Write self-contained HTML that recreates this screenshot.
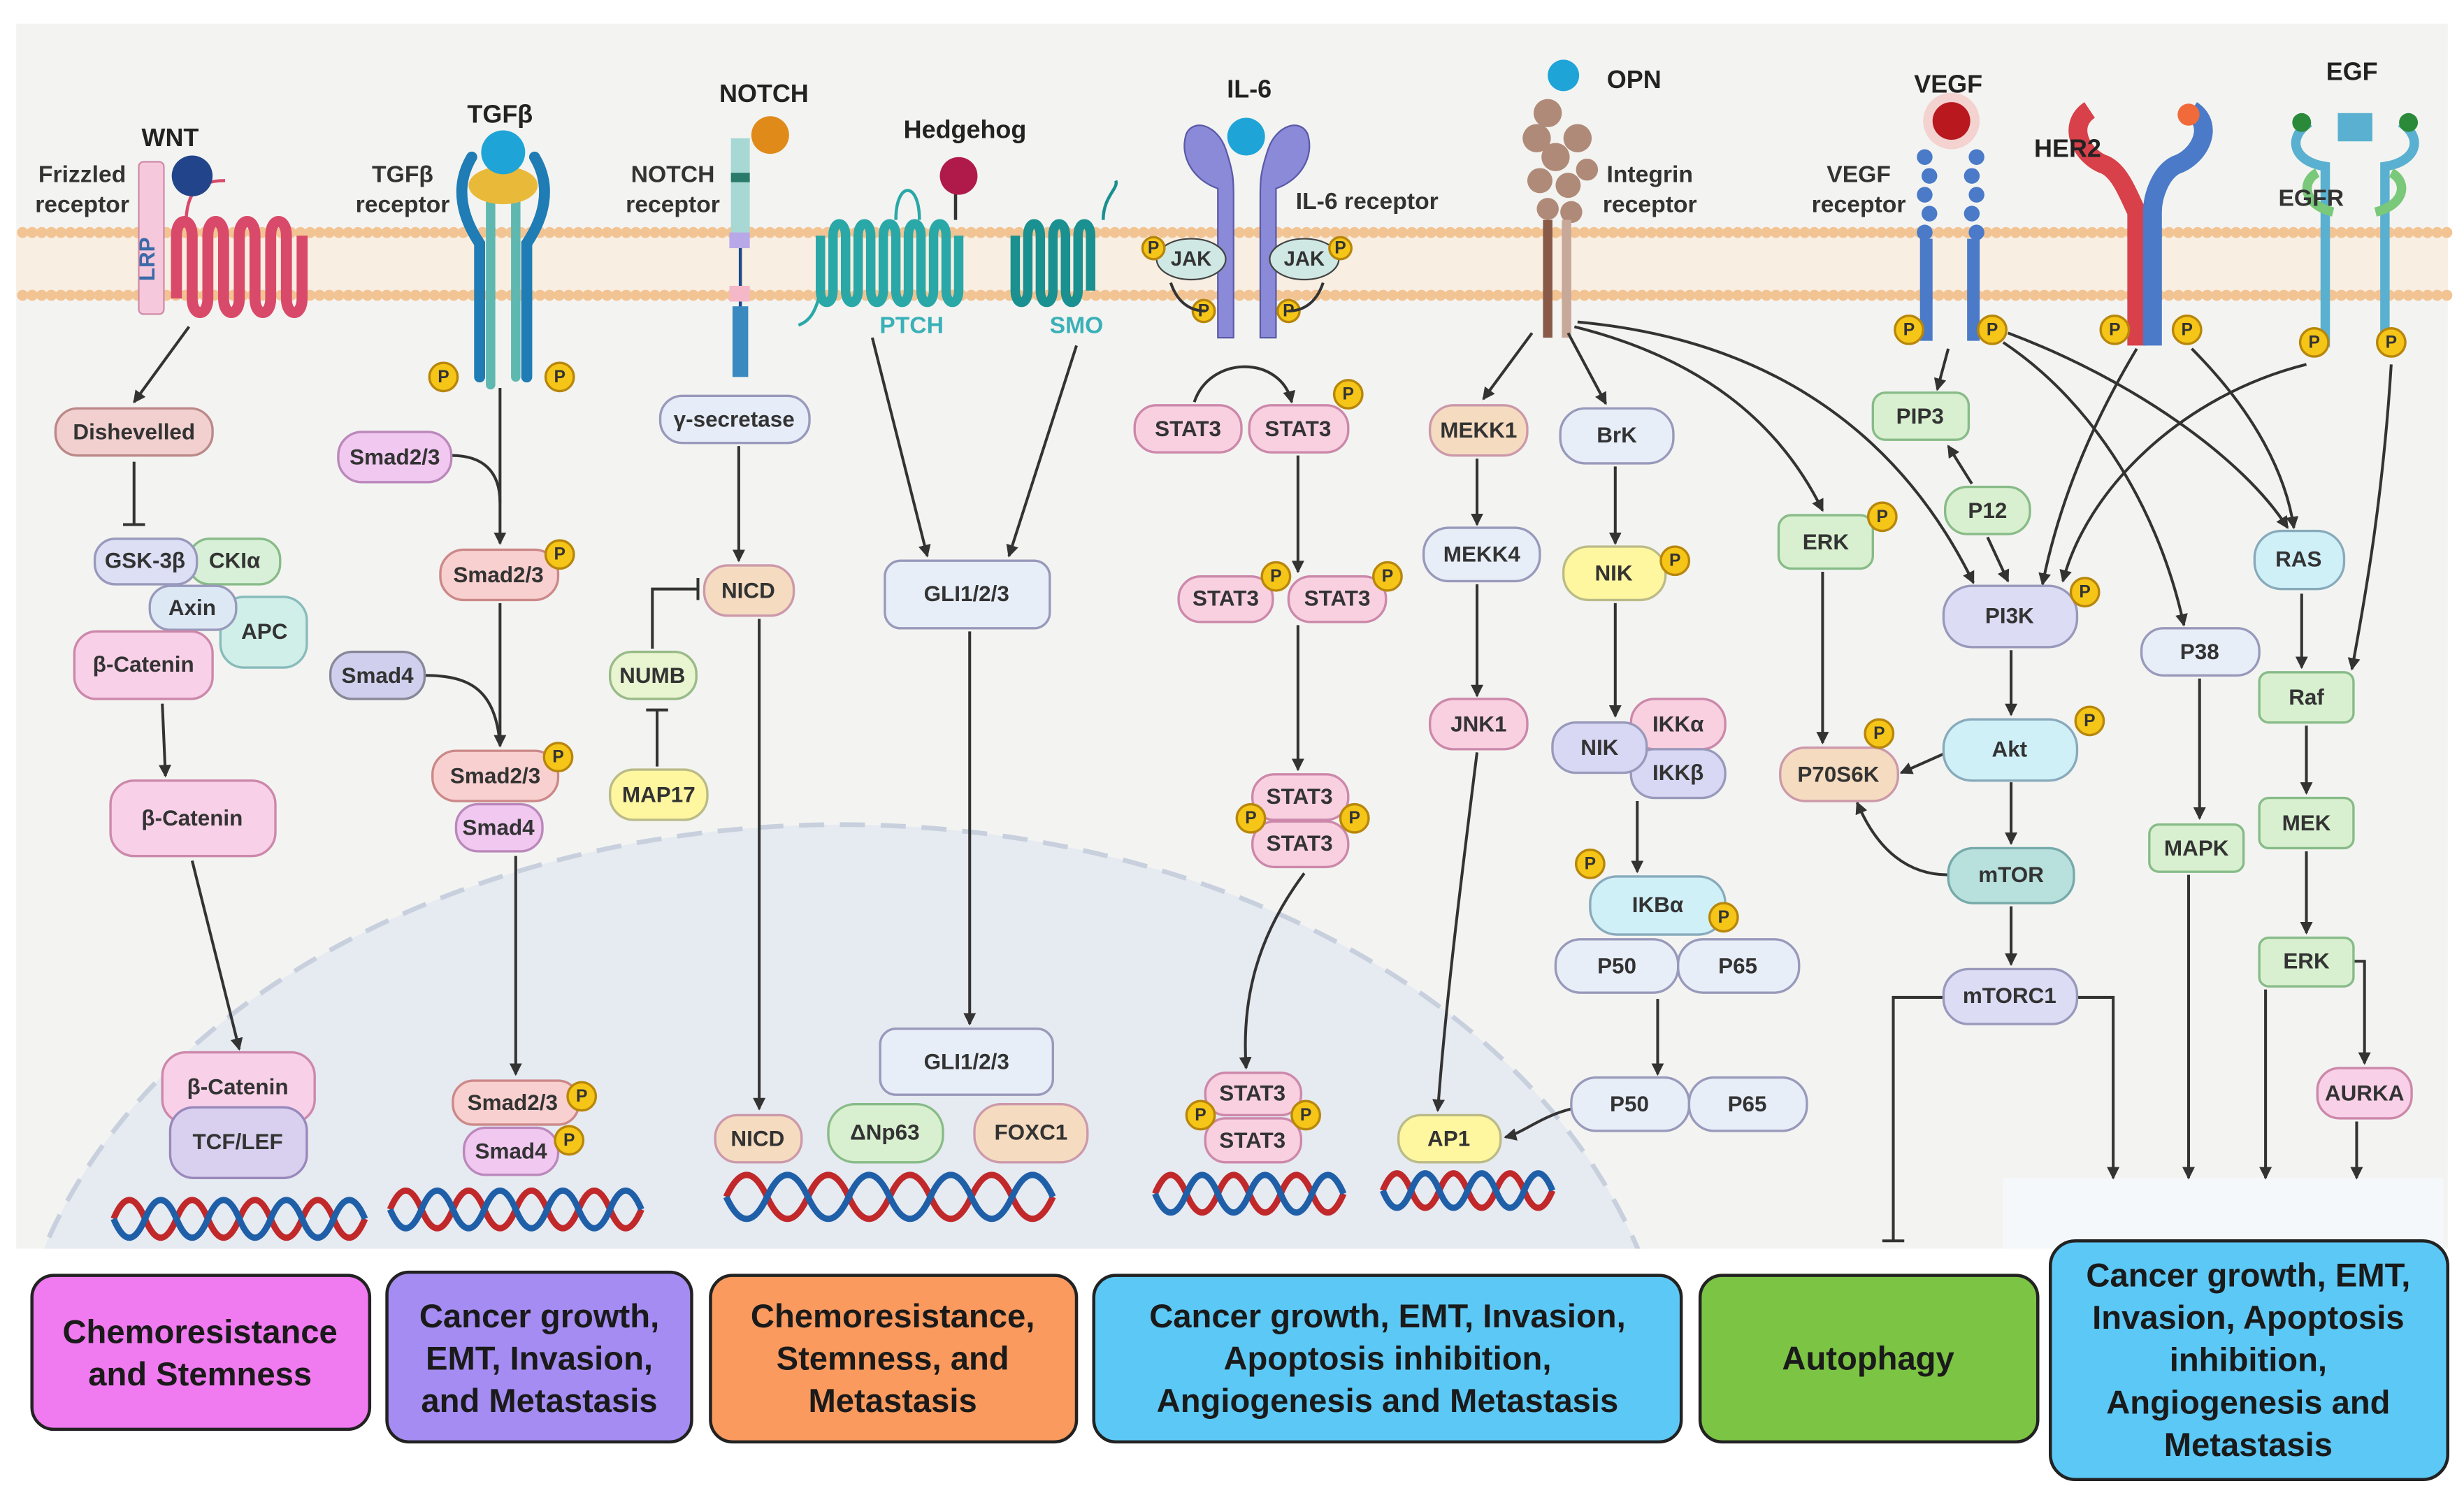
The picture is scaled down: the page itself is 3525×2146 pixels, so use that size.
<!DOCTYPE html>
<html><head><meta charset="utf-8"><style>
html,body{margin:0;padding:0;background:#fff;width:3525px;height:2146px;overflow:hidden}
svg{display:block}
text{font-family:"Liberation Sans",sans-serif;font-weight:bold}
.n text{font-size:14px;fill:#333;text-anchor:middle;dominant-baseline:central}
.lb{font-size:16px;fill:#222;text-anchor:middle}
.bt{font-size:21px;fill:#1a1a1a;text-anchor:middle}
.ln{stroke:#333;stroke-width:1.8;fill:none}
.ar{marker-end:url(#ah)}
.pc circle{fill:#f5c518;stroke:#b8860b;stroke-width:1.5}
.pc text{font-size:11px;fill:#333;text-anchor:middle;dominant-baseline:central}
</style></head><body>
<svg width="3525" height="2146" viewBox="0 0 1568 955" xmlns="http://www.w3.org/2000/svg">
<defs>
<marker id="ah" markerWidth="8" markerHeight="8" refX="7" refY="4" orient="auto" markerUnits="userSpaceOnUse" viewBox="0 0 8 8"><path d="M0,0 L8,4 L0,8 z" fill="#333"/></marker>
<clipPath id="cl"><rect x="10" y="15" width="1548" height="780"/></clipPath>
</defs>
<rect x="10" y="15" width="1548" height="780" fill="#f3f4f1"/>
<rect x="10" y="147" width="1548" height="42" fill="#f8eee2"/>
<line x1="14" y1="148" x2="1558" y2="148" stroke="#f3c493" stroke-width="7" stroke-dasharray="0.1 6" stroke-linecap="round"/>
<line x1="14" y1="188" x2="1558" y2="188" stroke="#f3c493" stroke-width="7" stroke-dasharray="0.1 6" stroke-linecap="round"/>
<g clip-path="url(#cl)"><ellipse cx="535" cy="905" rx="530" ry="380" fill="#e6eaf1" stroke="#c8d0de" stroke-width="3" stroke-dasharray="16 10"/></g>
<rect x="1275" y="750" width="280" height="45" fill="#f5f8fb"/>

<rect x="88" y="103" width="16" height="97" rx="3" fill="#f6c8dc" stroke="#d08aa8"/>
<text x="98" y="165" transform="rotate(-90 98 165)" font-size="14" fill="#3a6aa8" text-anchor="middle">LRP</text>
<path d="M112,150 v40 M112,150 c0,-12 10,-12 10,0 v40 c0,12 10,12 10,0 v-40 c0,-12 10,-12 10,0 v40 c0,12 10,12 10,0 v-40 c0,-12 10,-12 10,0 v40 c0,12 10,12 10,0 v-40 c0,-12 10,-12 10,0 v40 c0,12 10,12 10,0 v-40" stroke="#d94a6a" stroke-width="7" fill="none"/>
<path d="M118,145 c0,-20 5,-30 25,-30" stroke="#d94a6a" stroke-width="2" fill="none"/>
<circle cx="122" cy="112" r="13" fill="#22448a"/>
<text class="lb" x="108" y="93">WNT</text>
<text x="52" y="116" font-size="15" fill="#333" text-anchor="middle">Frizzled</text>
<text x="52" y="135" font-size="15" fill="#333" text-anchor="middle">receptor</text>

<g stroke-linecap="round" fill="none">
<path d="M300,100 c-12,20 -5,40 5,55 v85" stroke="#1f7cb4" stroke-width="7"/>
<path d="M340,100 c12,20 5,40 -5,55 v85" stroke="#1f7cb4" stroke-width="7"/>
<path d="M312,125 v120" stroke="#5fb8b0" stroke-width="6"/>
<path d="M328,125 v115" stroke="#5fb8b0" stroke-width="6"/>
</g>
<ellipse cx="320" cy="118" rx="22" ry="12" fill="#e9b93a"/>
<circle cx="320" cy="97" r="14" fill="#1fa4d8"/>
<text class="lb" x="318" y="78">TGFβ</text>
<text x="256" y="116" font-size="15" fill="#333" text-anchor="middle">TGFβ</text>
<text x="256" y="135" font-size="15" fill="#333" text-anchor="middle">receptor</text>
<g class="pc"><circle cx="282" cy="240" r="9"/><text x="282" y="240">P</text></g>
<g class="pc"><circle cx="356" cy="240" r="9"/><text x="356" y="240">P</text></g>

<rect x="465" y="88" width="12" height="60" fill="#a8d8d4"/>
<rect x="465" y="110" width="12" height="6" fill="#2a7a6a"/>
<rect x="464" y="148" width="13" height="10" fill="#b8a8e8"/>
<line x1="471" y1="158" x2="471" y2="200" stroke="#1f4a8a" stroke-width="2"/>
<rect x="464" y="182" width="13" height="10" fill="#f5b8c8"/>
<rect x="466" y="195" width="10" height="45" fill="#3a8ac0"/>
<circle cx="490" cy="86" r="12" fill="#e08a1a"/>
<text class="lb" x="486" y="65">NOTCH</text>
<text x="428" y="116" font-size="15" fill="#333" text-anchor="middle">NOTCH</text>
<text x="428" y="135" font-size="15" fill="#333" text-anchor="middle">receptor</text>

<path d="M522,150 v35 c0,10 8,10 8,0 v-35 c0,-10 8,-10 8,0 v35 c0,10 8,10 8,0 v-35 c0,-10 8,-10 8,0 v35 c0,10 8,10 8,0 v-35 c0,-10 8,-10 8,0 v35 c0,10 8,10 8,0 v-35 c0,-10 8,-10 8,0 v35 c0,10 8,10 8,0 v-35 c0,-10 8,-10 8,0 v35 c0,10 8,10 8,0 v-35" stroke="#2aa8a8" stroke-width="6" fill="none"/>
<path d="M522,185 c-3,15 -8,20 -14,22 M570,140 c0,-25 15,-25 15,0" stroke="#2aa8a8" stroke-width="2" fill="none"/>
<path d="M646,150 v35 c0,10 8,10 8,0 v-35 c0,-10 8,-10 8,0 v35 c0,10 8,10 8,0 v-35 c0,-10 8,-10 8,0 v35 c0,10 8,10 8,0 v-35 c0,-10 8,-10 8,0 v35" stroke="#1a9090" stroke-width="6" fill="none"/>
<path d="M702,140 c0,-15 10,-20 8,-25" stroke="#1a9090" stroke-width="2" fill="none"/>
<line x1="608" y1="118" x2="608" y2="140" stroke="#333" stroke-width="2"/>
<circle cx="610" cy="112" r="12" fill="#b01a4a"/>
<text class="lb" x="614" y="88">Hedgehog</text>
<text x="580" y="212" font-size="15" fill="#3ab0b8" text-anchor="middle">PTCH</text>
<text x="685" y="212" font-size="15" fill="#3ab0b8" text-anchor="middle">SMO</text>

<path d="M775,215 v-95 c-15,-5 -25,-20 -20,-35 c5,-10 20,-5 25,10 c5,15 5,20 5,30 v90 z" fill="#8a8ad8" stroke="#5a5aa8"/>
<path d="M812,215 v-95 c15,-5 25,-20 20,-35 c-5,-10 -20,-5 -25,10 c-5,15 -5,20 -5,30 v90 z" fill="#8a8ad8" stroke="#5a5aa8"/>
<circle cx="793" cy="87" r="12" fill="#1fa4d8"/>
<text class="lb" x="795" y="62">IL-6</text>
<text x="870" y="133" font-size="15" fill="#333" text-anchor="middle">IL-6 receptor</text>
<ellipse cx="758" cy="165" rx="22" ry="13" fill="#cfe8e4" stroke="#444"/><text x="758" y="169" font-size="13" text-anchor="middle" fill="#333">JAK</text>
<ellipse cx="830" cy="165" rx="22" ry="13" fill="#cfe8e4" stroke="#444"/><text x="830" y="169" font-size="13" text-anchor="middle" fill="#333">JAK</text>
<g class="pc"><circle cx="734" cy="158" r="7"/><text x="734" y="158">P</text></g>
<g class="pc"><circle cx="853" cy="158" r="7"/><text x="853" y="158">P</text></g>
<g class="pc"><circle cx="766" cy="198" r="7"/><text x="766" y="198">P</text></g>
<g class="pc"><circle cx="820" cy="198" r="7"/><text x="820" y="198">P</text></g>
<path d="M745,180 c5,15 15,18 22,18 M842,180 c-5,15 -15,18 -22,18" class="ln"/>

<g fill="#b08a78">
<circle cx="985" cy="72" r="9"/><circle cx="978" cy="88" r="9"/><circle cx="990" cy="100" r="9"/><circle cx="1004" cy="88" r="9"/><circle cx="980" cy="115" r="8"/><circle cx="998" cy="118" r="8"/><circle cx="1010" cy="108" r="7"/><circle cx="985" cy="133" r="7"/><circle cx="1000" cy="135" r="7"/>
</g>
<rect x="982" y="140" width="6" height="75" fill="#8a5a48"/><rect x="994" y="140" width="6" height="75" fill="#c8a898"/>
<circle cx="995" cy="48" r="10" fill="#1fa4d8"/>
<text class="lb" x="1040" y="56">OPN</text>
<text x="1050" y="116" font-size="15" fill="#333" text-anchor="middle">Integrin</text>
<text x="1050" y="135" font-size="15" fill="#333" text-anchor="middle">receptor</text>

<g fill="#4a7ac8">
<circle cx="1225" cy="100" r="5"/><circle cx="1228" cy="112" r="5"/><circle cx="1225" cy="124" r="5"/><circle cx="1228" cy="136" r="5"/><circle cx="1225" cy="148" r="5"/>
<circle cx="1258" cy="100" r="5"/><circle cx="1255" cy="112" r="5"/><circle cx="1258" cy="124" r="5"/><circle cx="1255" cy="136" r="5"/><circle cx="1258" cy="148" r="5"/>
<rect x="1222" y="152" width="8" height="65"/><rect x="1252" y="152" width="8" height="65"/>
</g>
<circle cx="1242" cy="77" r="18" fill="#f5b0b0" opacity="0.5"/>
<circle cx="1242" cy="77" r="12" fill="#b8181e"/>
<text class="lb" x="1240" y="59">VEGF</text>
<text x="1183" y="116" font-size="15" fill="#333" text-anchor="middle">VEGF</text>
<text x="1183" y="135" font-size="15" fill="#333" text-anchor="middle">receptor</text>
<g class="pc"><circle cx="1215" cy="210" r="9"/><text x="1215" y="210">P</text></g>
<g class="pc"><circle cx="1268" cy="210" r="9"/><text x="1268" y="210">P</text></g>

<path d="M1330,70 c-15,10 -5,30 10,35 c10,5 15,20 20,30 v85" stroke="#d8404a" stroke-width="12" fill="none"/>
<path d="M1395,70 c15,10 5,30 -10,35 c-10,5 -15,20 -15,30 v85" stroke="#4a7ac8" stroke-width="12" fill="none"/>
<circle cx="1393" cy="73" r="7" fill="#f06a3a"/>
<text class="lb" x="1316" y="100">HER2</text>
<g class="pc"><circle cx="1346" cy="210" r="9"/><text x="1346" y="210">P</text></g>
<g class="pc"><circle cx="1392" cy="210" r="9"/><text x="1392" y="210">P</text></g>

<path d="M1470,78 c-15,10 -10,25 10,28 v115 M1528,78 c15,10 10,25 -10,28 v115" stroke="#5ab0d0" stroke-width="6" fill="none"/>
<path d="M1475,110 c-10,5 -10,20 10,25 M1522,110 c10,5 10,20 -10,25" stroke="#7ac87a" stroke-width="6" fill="none"/>
<rect x="1488" y="72" width="22" height="18" fill="#5ab0d0"/>
<circle cx="1465" cy="78" r="6" fill="#2a8a3a"/><circle cx="1533" cy="78" r="6" fill="#2a8a3a"/>
<text class="lb" x="1497" y="51">EGF</text>
<text x="1471" y="131" font-size="15" fill="#333" text-anchor="middle">EGFR</text>
<g class="pc"><circle cx="1473" cy="218" r="9"/><text x="1473" y="218">P</text></g>
<g class="pc"><circle cx="1522" cy="218" r="9"/><text x="1522" y="218">P</text></g>

<g class="ln">
<line class="ar" x1="120" y1="208" x2="85" y2="256"/>
<line x1="85" y1="294" x2="85" y2="334"/><line x1="78" y1="334" x2="92" y2="334"/>
<line class="ar" x1="103" y1="448" x2="105" y2="494"/>
<line class="ar" x1="122" y1="548" x2="152" y2="668"/>
<path class="ar" d="M318,247 V346"/><path d="M287,290 c20,0 31,10 31,30"/>
<path class="ar" d="M318,384 V475"/><path d="M270,430 c30,0 45,10 48,44"/>
<path class="ar" d="M328,545 V684"/>
<path class="ar" d="M470,284 V357"/>
<path class="ar" d="M483,394 V706"/>
<path d="M415,413 V375 H444"/><line x1="444" y1="368" x2="444" y2="382"/>
<path d="M418,488 V452"/><line x1="411" y1="452" x2="425" y2="452"/>
<path class="ar" d="M555,215 L590,354"/><path class="ar" d="M685,220 L642,354"/>
<path class="ar" d="M617,402 V652"/>
<path class="ar" d="M760,256 c10,-30 55,-30 62,0"/>
<path class="ar" d="M826,290 V364"/><path class="ar" d="M826,398 V490"/>
<path class="ar" d="M830,556 c-30,40 -40,80 -37,124"/>
<path class="ar" d="M975,212 L944,254"/><path class="ar" d="M998,212 L1022,257"/>
<path class="ar" d="M1002,208 c80,20 130,60 158,117"/>
<path class="ar" d="M1004,205 c110,10 200,60 252,166"/>
<path class="ar" d="M940,292 V334"/><path class="ar" d="M940,372 V443"/>
<path class="ar" d="M940,479 c-10,80 -20,160 -25,228"/>
<path class="ar" d="M1028,297 V346"/><path class="ar" d="M1028,384 V456"/>
<path class="ar" d="M1042,510 V555"/><path class="ar" d="M1055,636 V684"/>
<path class="ar" d="M1000,706 c-20,5 -30,15 -42,18"/>
<path class="ar" d="M1160,364 V473"/>
<path class="ar" d="M1240,222 L1233,248"/>
<path class="ar" d="M1255,308 L1240,284"/><path class="ar" d="M1265,342 L1278,370"/>
<path class="ar" d="M1278,212 c80,30 150,80 178,124"/>
<path class="ar" d="M1275,218 c60,40 100,110 115,180"/>
<path class="ar" d="M1360,222 c-30,50 -50,100 -60,150"/>
<path class="ar" d="M1395,222 c40,40 60,80 65,114"/>
<path class="ar" d="M1468,232 c-80,20 -140,80 -155,138"/>
<path class="ar" d="M1522,232 c-5,80 -15,140 -25,194"/>
<path class="ar" d="M1280,414 V455"/><path class="ar" d="M1237,480 L1210,492"/>
<path class="ar" d="M1280,498 V537"/><path class="ar" d="M1240,557 c-25,0 -45,-15 -58,-46"/>
<path class="ar" d="M1280,577 V614"/>
<path d="M1237,635 H1205 V790"/><line x1="1198" y1="790" x2="1212" y2="790"/>
<path class="ar" d="M1322,635 H1345 V750"/>
<path class="ar" d="M1400,432 V521"/><path class="ar" d="M1393,557 V750"/>
<path class="ar" d="M1465,378 V425"/><path class="ar" d="M1468,462 V505"/><path class="ar" d="M1468,542 V594"/>
<path class="ar" d="M1442,630 V750"/><path class="ar" d="M1498,612 H1505 V677"/>
<path class="ar" d="M1500,714 V750"/>
</g>

<g class="n" stroke-width="1.5">
<rect x="35" y="260" width="100" height="30" rx="14" fill="#f2d0d0" stroke="#b88"/><text x="85" y="275">Dishevelled</text>
<rect x="120" y="343" width="58" height="29" rx="13" fill="#d8f0d8" stroke="#8b8"/><text x="149" y="357">CKIα</text>
<rect x="60" y="343" width="65" height="29" rx="13" fill="#dde0f5" stroke="#99b"/><text x="92" y="357">GSK-3β</text>
<rect x="140" y="380" width="55" height="45" rx="15" fill="#d0efe8" stroke="#8bb"/><text x="168" y="402">APC</text>
<rect x="95" y="373" width="55" height="28" rx="13" fill="#dde8f5" stroke="#99b"/><text x="122" y="387">Axin</text>
<rect x="47" y="402" width="88" height="43" rx="14" fill="#f8d0e8" stroke="#c8a"/><text x="91" y="423">β-Catenin</text>
<rect x="70" y="497" width="105" height="48" rx="15" fill="#f8d0e8" stroke="#c8a"/><text x="122" y="521">β-Catenin</text>
<rect x="103" y="670" width="97" height="45" rx="15" fill="#f8d0e8" stroke="#c8a"/><text x="151" y="692">β-Catenin</text>
<rect x="108" y="705" width="87" height="45" rx="15" fill="#d8d0ee" stroke="#98b"/><text x="151" y="727">TCF/LEF</text>
<rect x="215" y="275" width="72" height="32" rx="15" fill="#f0c8f0" stroke="#b8b"/><text x="251" y="291">Smad2/3</text>
<rect x="280" y="350" width="75" height="32" rx="15" fill="#f8d0d0" stroke="#c88"/><text x="317" y="366">Smad2/3</text>
<rect x="210" y="415" width="60" height="30" rx="14" fill="#d0d0ee" stroke="#889"/><text x="240" y="430">Smad4</text>
<rect x="275" y="478" width="80" height="32" rx="15" fill="#f8d0d0" stroke="#c88"/><text x="315" y="494">Smad2/3</text>
<rect x="290" y="512" width="55" height="30" rx="14" fill="#f0c8f0" stroke="#b8b"/><text x="317" y="527">Smad4</text>
<rect x="288" y="688" width="80" height="28" rx="13" fill="#f8d0d0" stroke="#c88"/><text x="326" y="702">Smad2/3</text>
<rect x="295" y="718" width="60" height="30" rx="14" fill="#f0c8f0" stroke="#b8b"/><text x="325" y="733">Smad4</text>
<rect x="420" y="252" width="95" height="30" rx="14" fill="#e6ecf8" stroke="#99b"/><text x="467" y="267">γ-secretase</text>
<rect x="448" y="360" width="57" height="32" rx="15" fill="#f5dcc0" stroke="#c9a"/><text x="476" y="376">NICD</text>
<rect x="388" y="415" width="55" height="30" rx="14" fill="#e8f5d0" stroke="#9b8"/><text x="415" y="430">NUMB</text>
<rect x="388" y="490" width="62" height="32" rx="15" fill="#fff6a0" stroke="#bb8"/><text x="419" y="506">MAP17</text>
<rect x="455" y="710" width="55" height="30" rx="14" fill="#f5dcc0" stroke="#c9a"/><text x="482" y="725">NICD</text>
<rect x="563" y="357" width="105" height="43" rx="10" fill="#e8eef8" stroke="#99b"/><text x="615" y="378">GLI1/2/3</text>
<rect x="560" y="655" width="110" height="42" rx="10" fill="#e8eef8" stroke="#99b"/><text x="615" y="676">GLI1/2/3</text>
<rect x="527" y="703" width="73" height="37" rx="17" fill="#d8f0d0" stroke="#8b8"/><text x="563" y="721">ΔNp63</text>
<rect x="620" y="703" width="72" height="37" rx="17" fill="#f5dcc0" stroke="#c9a"/><text x="656" y="721">FOXC1</text>
<rect x="722" y="258" width="68" height="30" rx="14" fill="#f8d0e0" stroke="#c8a"/><text x="756" y="273">STAT3</text>
<rect x="795" y="258" width="63" height="30" rx="14" fill="#f8d0e0" stroke="#c8a"/><text x="826" y="273">STAT3</text>
<rect x="750" y="367" width="60" height="29" rx="14" fill="#f8d0e0" stroke="#c8a"/><text x="780" y="381">STAT3</text>
<rect x="820" y="367" width="62" height="29" rx="14" fill="#f8d0e0" stroke="#c8a"/><text x="851" y="381">STAT3</text>
<rect x="797" y="493" width="61" height="29" rx="14" fill="#f8d0e0" stroke="#c8a"/><text x="827" y="507">STAT3</text>
<rect x="797" y="523" width="61" height="29" rx="14" fill="#f8d0e0" stroke="#c8a"/><text x="827" y="537">STAT3</text>
<rect x="767" y="683" width="61" height="27" rx="13" fill="#f8d0e0" stroke="#c8a"/><text x="797" y="696">STAT3</text>
<rect x="767" y="712" width="61" height="28" rx="13" fill="#f8d0e0" stroke="#c8a"/><text x="797" y="726">STAT3</text>
<rect x="910" y="258" width="62" height="32" rx="15" fill="#f5dcc0" stroke="#c9a"/><text x="941" y="274">MEKK1</text>
<rect x="906" y="336" width="74" height="34" rx="16" fill="#e8eef8" stroke="#99b"/><text x="943" y="353">MEKK4</text>
<rect x="910" y="445" width="62" height="32" rx="15" fill="#f8d0e0" stroke="#c8a"/><text x="941" y="461">JNK1</text>
<rect x="890" y="710" width="65" height="30" rx="14" fill="#fff6a0" stroke="#bb8"/><text x="922" y="725">AP1</text>
<rect x="993" y="260" width="72" height="35" rx="16" fill="#e8eef8" stroke="#99b"/><text x="1029" y="277">BrK</text>
<rect x="995" y="348" width="65" height="34" rx="16" fill="#fff6a0" stroke="#bb8"/><text x="1027" y="365">NIK</text>
<rect x="1038" y="445" width="60" height="32" rx="15" fill="#f8d0e0" stroke="#c8a"/><text x="1068" y="461">IKKα</text>
<rect x="1038" y="477" width="60" height="31" rx="15" fill="#d8d8f5" stroke="#99b"/><text x="1068" y="492">IKKβ</text>
<rect x="988" y="460" width="60" height="32" rx="15" fill="#d8d8f5" stroke="#99b"/><text x="1018" y="476">NIK</text>
<rect x="1012" y="558" width="86" height="37" rx="17" fill="#d0f0f8" stroke="#8ab"/><text x="1055" y="576">IKBα</text>
<rect x="990" y="598" width="78" height="34" rx="16" fill="#e8eef8" stroke="#99b"/><text x="1029" y="615">P50</text>
<rect x="1068" y="598" width="77" height="34" rx="16" fill="#e8eef8" stroke="#99b"/><text x="1106" y="615">P65</text>
<rect x="1000" y="686" width="75" height="34" rx="16" fill="#e8eef8" stroke="#99b"/><text x="1037" y="703">P50</text>
<rect x="1075" y="686" width="75" height="34" rx="16" fill="#e8eef8" stroke="#99b"/><text x="1112" y="703">P65</text>
<rect x="1132" y="328" width="60" height="34" rx="8" fill="#d8f0d0" stroke="#8b8"/><text x="1162" y="345">ERK</text>
<rect x="1192" y="250" width="61" height="30" rx="8" fill="#d8f0d0" stroke="#8b8"/><text x="1222" y="265">PIP3</text>
<rect x="1238" y="310" width="54" height="30" rx="14" fill="#d8f0d0" stroke="#8b8"/><text x="1265" y="325">P12</text>
<rect x="1237" y="373" width="85" height="39" rx="18" fill="#dcdcf5" stroke="#99b"/><text x="1279" y="392">PI3K</text>
<rect x="1237" y="458" width="85" height="39" rx="18" fill="#d0f0f8" stroke="#8ab"/><text x="1279" y="477">Akt</text>
<rect x="1133" y="476" width="75" height="34" rx="16" fill="#f5dcc0" stroke="#c9a"/><text x="1170" y="493">P70S6K</text>
<rect x="1240" y="540" width="80" height="35" rx="16" fill="#b8e0dc" stroke="#7aa"/><text x="1280" y="557">mTOR</text>
<rect x="1237" y="617" width="85" height="35" rx="16" fill="#dcdcf5" stroke="#99b"/><text x="1279" y="634">mTORC1</text>
<rect x="1363" y="400" width="75" height="30" rx="14" fill="#e8eef8" stroke="#99b"/><text x="1400" y="415">P38</text>
<rect x="1368" y="525" width="60" height="30" rx="6" fill="#d8f0d0" stroke="#8b8"/><text x="1398" y="540">MAPK</text>
<rect x="1435" y="338" width="57" height="37" rx="17" fill="#d0f0f8" stroke="#8ab"/><text x="1463" y="356">RAS</text>
<rect x="1438" y="428" width="60" height="32" rx="6" fill="#d8f0d0" stroke="#8b8"/><text x="1468" y="444">Raf</text>
<rect x="1438" y="508" width="60" height="32" rx="6" fill="#d8f0d0" stroke="#8b8"/><text x="1468" y="524">MEK</text>
<rect x="1438" y="597" width="60" height="31" rx="6" fill="#d8f0d0" stroke="#8b8"/><text x="1468" y="612">ERK</text>
<rect x="1475" y="680" width="60" height="32" rx="14" fill="#f8d0e8" stroke="#c8a"/><text x="1505" y="696">AURKA</text>
</g>

<g class="pc">
<circle cx="356" cy="353" r="9"/><text x="356" y="353">P</text>
<circle cx="355" cy="482" r="9"/><text x="355" y="482">P</text>
<circle cx="370" cy="698" r="9"/><text x="370" y="698">P</text>
<circle cx="362" cy="726" r="9"/><text x="362" y="726">P</text>
<circle cx="858" cy="251" r="9"/><text x="858" y="251">P</text>
<circle cx="812" cy="367" r="9"/><text x="812" y="367">P</text>
<circle cx="883" cy="367" r="9"/><text x="883" y="367">P</text>
<circle cx="796" cy="521" r="9"/><text x="796" y="521">P</text>
<circle cx="862" cy="521" r="9"/><text x="862" y="521">P</text>
<circle cx="764" cy="710" r="9"/><text x="764" y="710">P</text>
<circle cx="831" cy="710" r="9"/><text x="831" y="710">P</text>
<circle cx="1066" cy="357" r="9"/><text x="1066" y="357">P</text>
<circle cx="1012" cy="550" r="9"/><text x="1012" y="550">P</text>
<circle cx="1097" cy="584" r="9"/><text x="1097" y="584">P</text>
<circle cx="1198" cy="329" r="9"/><text x="1198" y="329">P</text>
<circle cx="1327" cy="377" r="9"/><text x="1327" y="377">P</text>
<circle cx="1330" cy="459" r="9"/><text x="1330" y="459">P</text>
<circle cx="1196" cy="467" r="9"/><text x="1196" y="467">P</text>
</g>

<g fill="none" stroke-width="4">
<path d="M72,776 q10,-24 20,0 t20,0 t20,0 t20,0 t20,0 t20,0 t20,0 t20,0" stroke="#c0282a"/>
<path d="M72,776 q10,24 20,0 t20,0 t20,0 t20,0 t20,0 t20,0 t20,0 t20,0" stroke="#1f5fa8"/>
<path d="M248,770 q10,-24 20,0 t20,0 t20,0 t20,0 t20,0 t20,0 t20,0 t20,0" stroke="#c0282a"/>
<path d="M248,770 q10,24 20,0 t20,0 t20,0 t20,0 t20,0 t20,0 t20,0 t20,0" stroke="#1f5fa8"/>
<path d="M462,762 q13,-28 26,0 t26,0 t26,0 t26,0 t26,0 t26,0 t26,0 t26,0" stroke="#c0282a"/>
<path d="M462,762 q13,28 26,0 t26,0 t26,0 t26,0 t26,0 t26,0 t26,0 t26,0" stroke="#1f5fa8"/>
<path d="M735,760 q10,-24 20,0 t20,0 t20,0 t20,0 t20,0 t20,0" stroke="#c0282a"/>
<path d="M735,760 q10,24 20,0 t20,0 t20,0 t20,0 t20,0 t20,0" stroke="#1f5fa8"/>
<path d="M880,758 q9,-22 18,0 t18,0 t18,0 t18,0 t18,0 t18,0" stroke="#c0282a"/>
<path d="M880,758 q9,22 18,0 t18,0 t18,0 t18,0 t18,0 t18,0" stroke="#1f5fa8"/>
</g>

<g stroke="#222" stroke-width="2">
<rect x="20" y="812" width="215" height="98" rx="14" fill="#f07af0"/>
<rect x="246" y="810" width="194" height="108" rx="14" fill="#a58cf2"/>
<rect x="452" y="812" width="233" height="106" rx="14" fill="#fa9a5e"/>
<rect x="696" y="812" width="374" height="106" rx="14" fill="#5cc8f5"/>
<rect x="1082" y="812" width="215" height="106" rx="14" fill="#7cc444"/>
<rect x="1305" y="790" width="253" height="152" rx="16" fill="#5cc8f5"/>
</g>
<text class="bt" x="127" y="855">Chemoresistance</text><text class="bt" x="127" y="882">and Stemness</text>
<text class="bt" x="343" y="845">Cancer growth,</text><text class="bt" x="343" y="872">EMT, Invasion,</text><text class="bt" x="343" y="899">and Metastasis</text>
<text class="bt" x="568" y="845">Chemoresistance,</text><text class="bt" x="568" y="872">Stemness, and</text><text class="bt" x="568" y="899">Metastasis</text>
<text class="bt" x="883" y="845">Cancer growth, EMT, Invasion,</text><text class="bt" x="883" y="872">Apoptosis inhibition,</text><text class="bt" x="883" y="899">Angiogenesis and Metastasis</text>
<text class="bt" x="1189" y="872">Autophagy</text>
<text class="bt" x="1431" y="819">Cancer growth, EMT,</text><text class="bt" x="1431" y="846">Invasion, Apoptosis</text><text class="bt" x="1431" y="873">inhibition,</text><text class="bt" x="1431" y="900">Angiogenesis and</text><text class="bt" x="1431" y="927">Metastasis</text>
</svg>
</body></html>
